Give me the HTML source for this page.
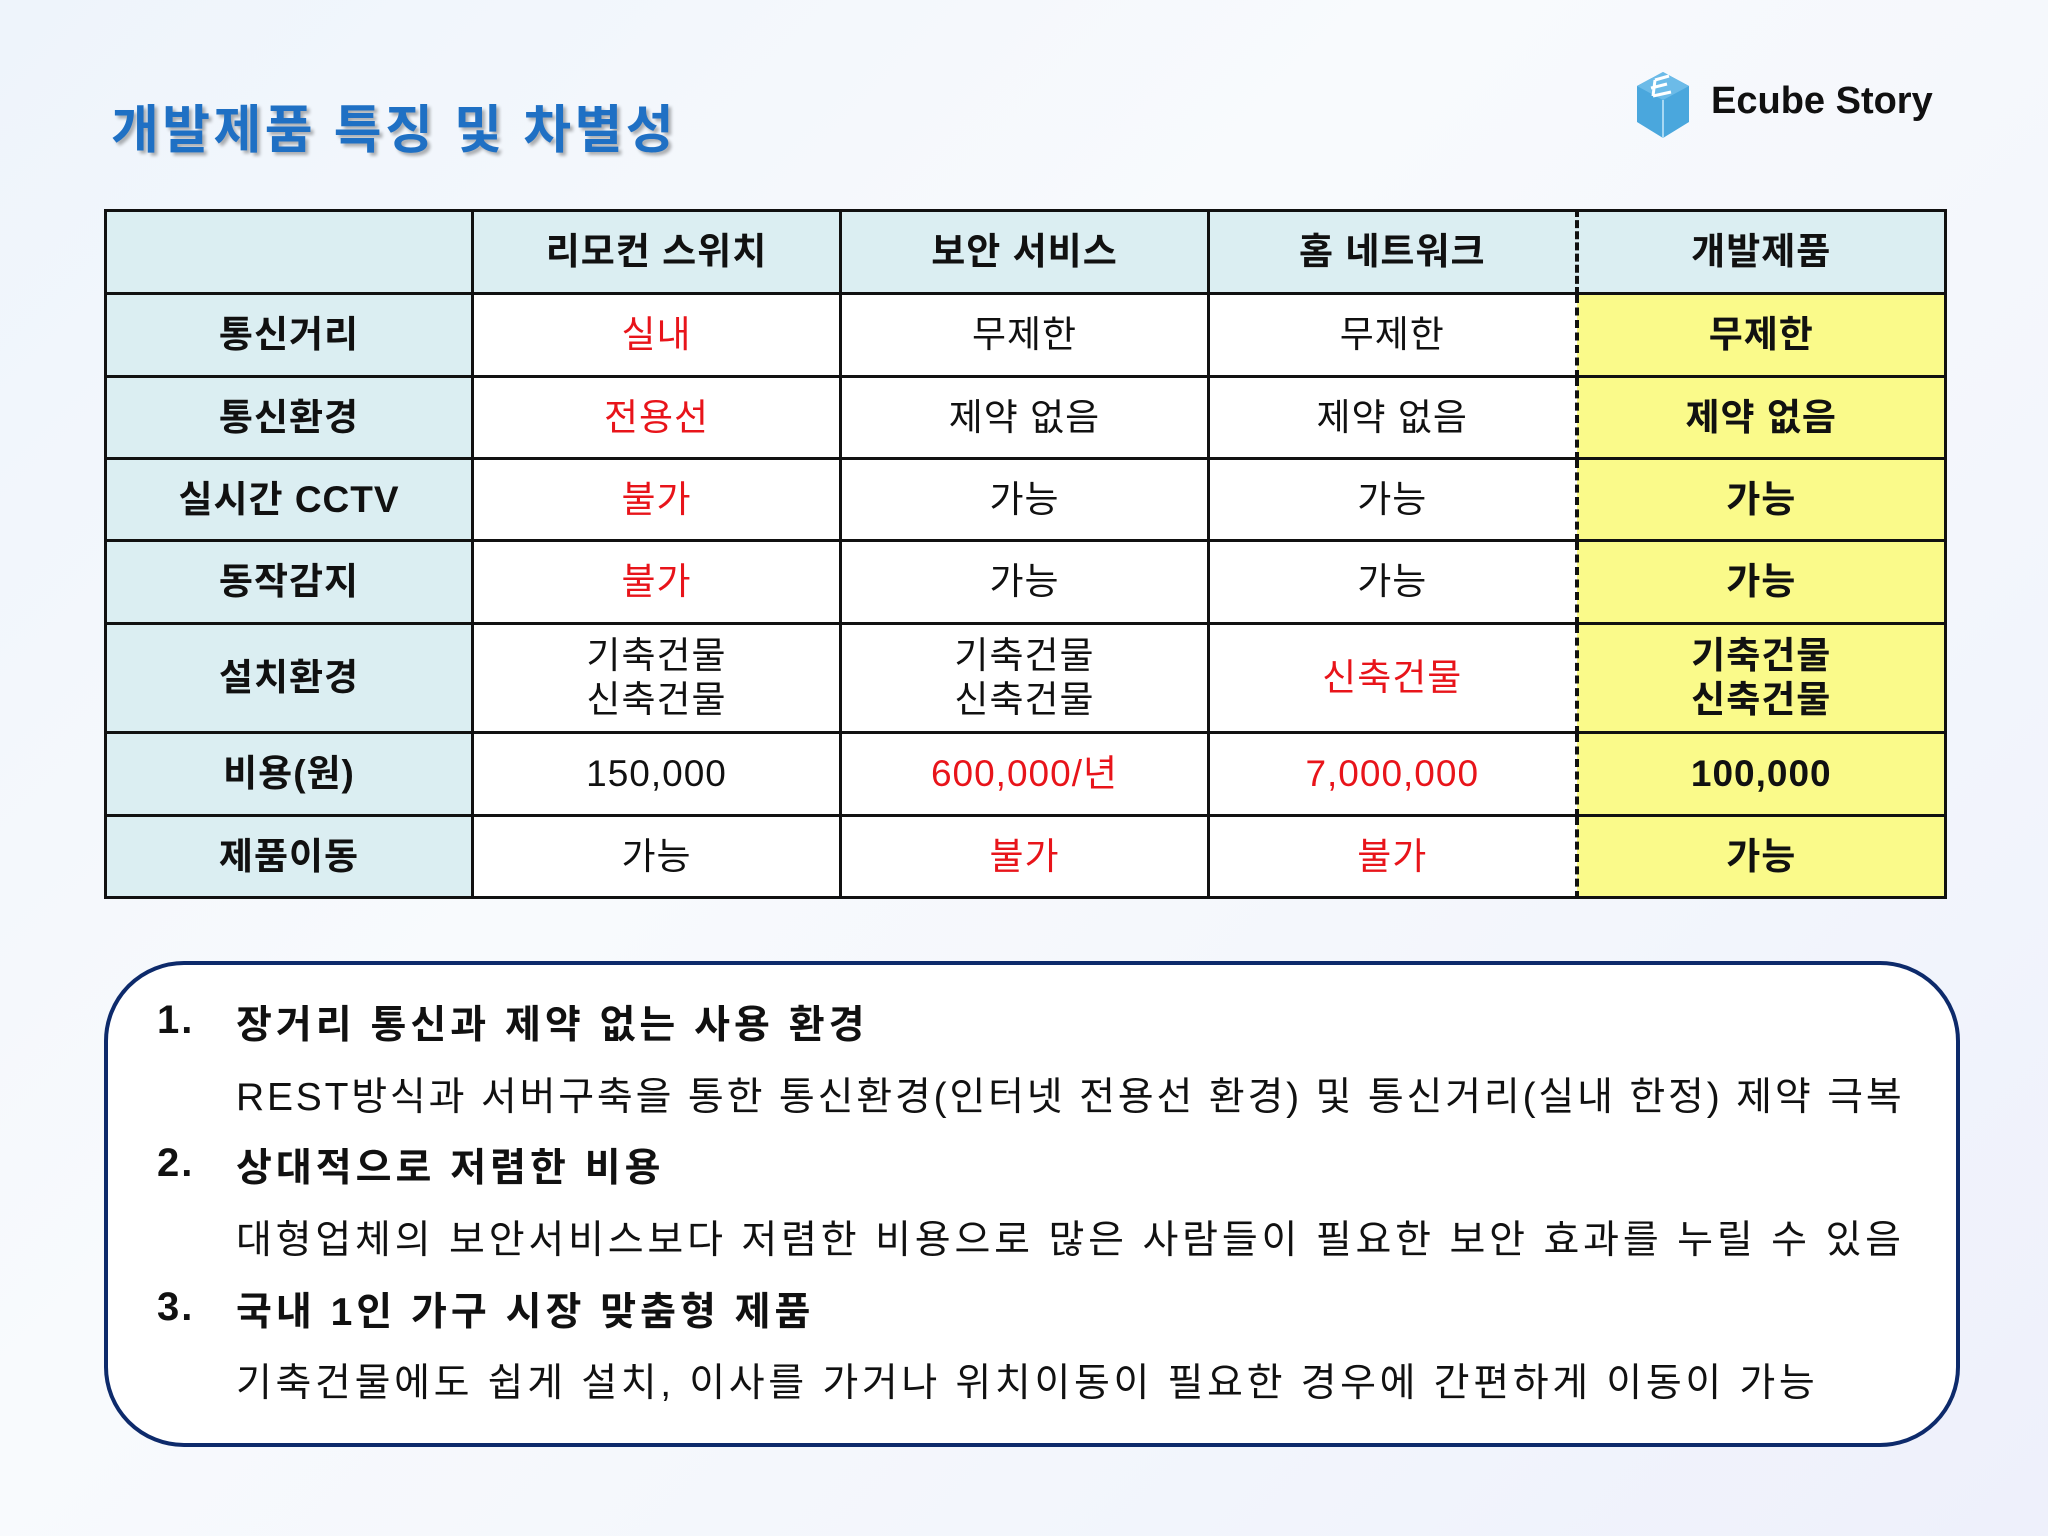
<!DOCTYPE html>
<html><head><meta charset="utf-8">
<style>
*{margin:0;padding:0;box-sizing:border-box}
body{width:2048px;height:1536px;overflow:hidden;position:relative;font-family:"Liberation Sans","Noto Sans CJK KR","NanumGothic",sans-serif;background:linear-gradient(135deg,#eef4fb 0%,#f8fafd 40%,#f3f6fc 70%,#eef0fb 100%)}
.title{position:absolute;left:111px;top:88px;font-size:52px;font-weight:bold;color:#1f70c4;text-shadow:3px 3px 3px rgba(0,0,0,.3);letter-spacing:3.4px}
.logo{position:absolute;left:1711px;top:80px;font-size:38px;font-weight:bold;color:#111}
table{position:absolute;left:104px;top:209px;width:1840px;border-collapse:collapse;table-layout:fixed}
td{border:3px solid #111;text-align:center;font-size:37px;color:#111;background:#fff;line-height:44px;letter-spacing:1px}
td.h{background:#dbeef2;font-weight:bold}
td.y{background:#fafa8a;font-weight:bold}
.r{color:#e8141a}
td.d{border-right:4px dashed #111}
td.dl{border-left:4px dashed #111}
.box{position:absolute;left:104px;top:961px;width:1856px;height:486px;border:4px solid #0d2a6b;border-radius:80px;background:#fff}
.t{position:absolute;font-size:39px;color:#111;white-space:nowrap;letter-spacing:3px}
.b{font-weight:bold;letter-spacing:4px}
.n{font-size:40px;letter-spacing:2px}
</style></head><body>
<div class="title">개발제품 특징 및 차별성</div>
<svg style="position:absolute;left:1635px;top:70px" width="56" height="70" viewBox="0 0 56 70">
<polygon points="28,2 54,16 54,52 28,68 2,52 2,16" fill="#4aa7dd"/>
<polygon points="28,2 54,16 28,30 2,16" fill="#6cbbe8"/>
<line x1="28" y1="30" x2="28" y2="68" stroke="#a8d8f3" stroke-width="2"/>
<path d="M20,10 L34,6 M16,18 L32,14 M18,26 L36,22 M20,10 L18,26" stroke="#fff" stroke-width="3" fill="none"/>
</svg>
<div class="logo">Ecube Story</div>
<table>
<colgroup><col style="width:367px"><col style="width:368px"><col style="width:368px"><col style="width:368px"><col style="width:369px"></colgroup>
<tr style="height:83px"><td class="h"></td><td class="h">리모컨 스위치</td><td class="h">보안 서비스</td><td class="h d">홈 네트워크</td><td class="h dl">개발제품</td></tr>
<tr style="height:83px"><td class="h">통신거리</td><td class="r">실내</td><td>무제한</td><td class="d">무제한</td><td class="y dl">무제한</td></tr>
<tr style="height:82px"><td class="h">통신환경</td><td class="r">전용선</td><td>제약 없음</td><td class="d">제약 없음</td><td class="y dl">제약 없음</td></tr>
<tr style="height:82px"><td class="h">실시간 CCTV</td><td class="r">불가</td><td>가능</td><td class="d">가능</td><td class="y dl">가능</td></tr>
<tr style="height:83px"><td class="h">동작감지</td><td class="r">불가</td><td>가능</td><td class="d">가능</td><td class="y dl">가능</td></tr>
<tr style="height:109px"><td class="h">설치환경</td><td>기축건물<br>신축건물</td><td>기축건물<br>신축건물</td><td class="r d">신축건물</td><td class="y dl">기축건물<br>신축건물</td></tr>
<tr style="height:83px"><td class="h">비용(원)</td><td>150,000</td><td class="r">600,000/년</td><td class="r d">7,000,000</td><td class="y dl">100,000</td></tr>
<tr style="height:82px"><td class="h">제품이동</td><td>가능</td><td class="r">불가</td><td class="r d">불가</td><td class="y dl">가능</td></tr>
</table>
<div class="box"></div>
<div class="t b n" style="left:157px;top:998px">1.</div>
<div class="t b" style="left:236px;top:994px">장거리 통신과 제약 없는 사용 환경</div>
<div class="t" style="left:236px;top:1066px;letter-spacing:2.8px">REST방식과 서버구축을 통한 통신환경(인터넷 전용선 환경) 및 통신거리(실내 한정) 제약 극복</div>
<div class="t b n" style="left:157px;top:1141px">2.</div>
<div class="t b" style="left:236px;top:1137px">상대적으로 저렴한 비용</div>
<div class="t" style="left:236px;top:1209px;letter-spacing:3.8px">대형업체의 보안서비스보다 저렴한 비용으로 많은 사람들이 필요한 보안 효과를 누릴 수 있음</div>
<div class="t b n" style="left:157px;top:1285px">3.</div>
<div class="t b" style="left:236px;top:1281px">국내 1인 가구 시장 맞춤형 제품</div>
<div class="t" style="left:236px;top:1352px;letter-spacing:3.65px">기축건물에도 쉽게 설치, 이사를 가거나 위치이동이 필요한 경우에 간편하게 이동이 가능</div>
</body></html>
